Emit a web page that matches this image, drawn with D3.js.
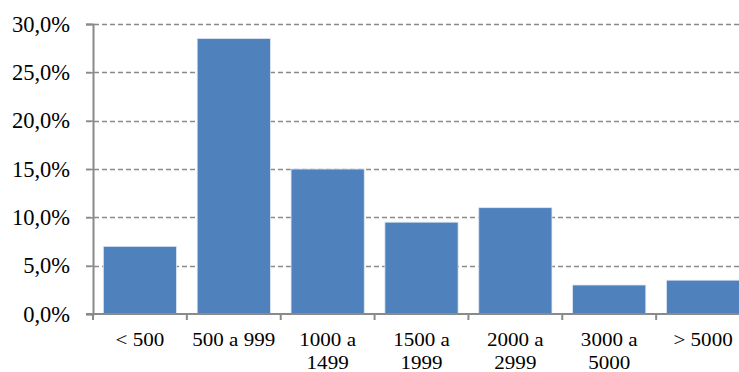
<!DOCTYPE html>
<html>
<head>
<meta charset="utf-8">
<script src="https://cdn.jsdelivr.net/npm/d3@7"></script>
<style>
  html, body { margin: 0; padding: 0; background: #fff; }
  svg { display: block; }
  .lbl { font-family: "Liberation Serif", "Times New Roman", Tinos; fill: #000; }
</style>
</head>
<body>
<svg id="chart" width="739" height="372"></svg>
<script>
// Income bands (first line / second line of each label)
const categories = ["< 500", "500 a 999", "1000 a 1499", "1500 a 1999", "2000 a 2999", "3000 a 5000", "> 5000"];
const labelLines = [["< 500"], ["500 a 999"], ["1000 a", "1499"], ["1500 a", "1999"], ["2000 a", "2999"], ["3000 a", "5000"], ["> 5000"]];
const shares = [7.0, 28.5, 15.0, 9.5, 11.0, 3.0, 3.5];
const yTicks = [0, 5, 10, 15, 20, 25, 30];

const svg = d3.select("#chart");
const plotLeft = 93, plotRight = 750, plotTop = 24, plotBottom = 314;

const x = d3.scaleBand().domain(categories).range([plotLeft, plotRight])
  .paddingInner(0.22).paddingOuter(0.11);
const y = d3.scaleLinear().domain([0, 30]).range([plotBottom, plotTop]);
const fmt = v => v.toFixed(1).replace(".", ",") + "%";

// dashed gridlines
svg.append("g").selectAll("line")
  .data(yTicks.filter(d => d > 0))
  .join("line")
  .attr("x1", plotLeft - 7).attr("x2", 739)
  .attr("y1", d => Math.round(y(d)) + 0.5).attr("y2", d => Math.round(y(d)) + 0.5)
  .attr("stroke", "#8a8a8a").attr("stroke-width", 1.5)
  .attr("stroke-dasharray", "5,3");

// bars
svg.append("g").selectAll("rect")
  .data(shares)
  .join("rect")
  .attr("x", (d, i) => x(categories[i]))
  .attr("width", x.bandwidth())
  .attr("y", d => y(d))
  .attr("height", d => y(0) - y(d))
  .attr("fill", "#4f81bd")
  .attr("stroke", "#dfe8f3").attr("stroke-width", 0.8);

// y axis
const yAxis = d3.axisLeft(y).tickValues(yTicks).tickFormat(fmt).tickSize(7).tickPadding(16);
const gy = svg.append("g").attr("transform", `translate(${plotLeft},0)`).call(yAxis);
gy.attr("font-family", null).attr("font-size", null);
gy.select(".domain").attr("stroke", "#8a8a8a").attr("stroke-width", 2);
gy.selectAll(".tick line").attr("stroke", "#8a8a8a").attr("stroke-width", 1.5);
gy.selectAll("text").attr("class", "lbl").style("font-size", "22.5px");

// x axis baseline and ticks at band boundaries
svg.append("line")
  .attr("x1", plotLeft - 7).attr("x2", 739)
  .attr("y1", plotBottom).attr("y2", plotBottom)
  .attr("stroke", "#8a8a8a").attr("stroke-width", 2);
const bounds = categories.map(c => x(c) - x.step() * 0.11);
svg.append("g").selectAll("line")
  .data(bounds)
  .join("line")
  .attr("x1", d => d).attr("x2", d => d)
  .attr("y1", plotBottom).attr("y2", plotBottom + 6)
  .attr("stroke", "#8a8a8a").attr("stroke-width", 2);

// category labels (slightly widened type)
const lbl = svg.append("g").selectAll("g")
  .data(labelLines)
  .join("g")
  .attr("transform", (d, i) => `translate(${x(categories[i]) + x.bandwidth() / 2},0) scale(1.17,1)`);
lbl.each(function(lines) {
  d3.select(this).selectAll("text").data(lines).join("text")
    .attr("class", "lbl")
    .attr("text-anchor", "middle")
    .style("font-size", "18px")
    .attr("x", 0)
    .attr("y", (d, j) => 346.5 + j * 23)
    .text(d => d);
});
</script>
</body>
</html>
